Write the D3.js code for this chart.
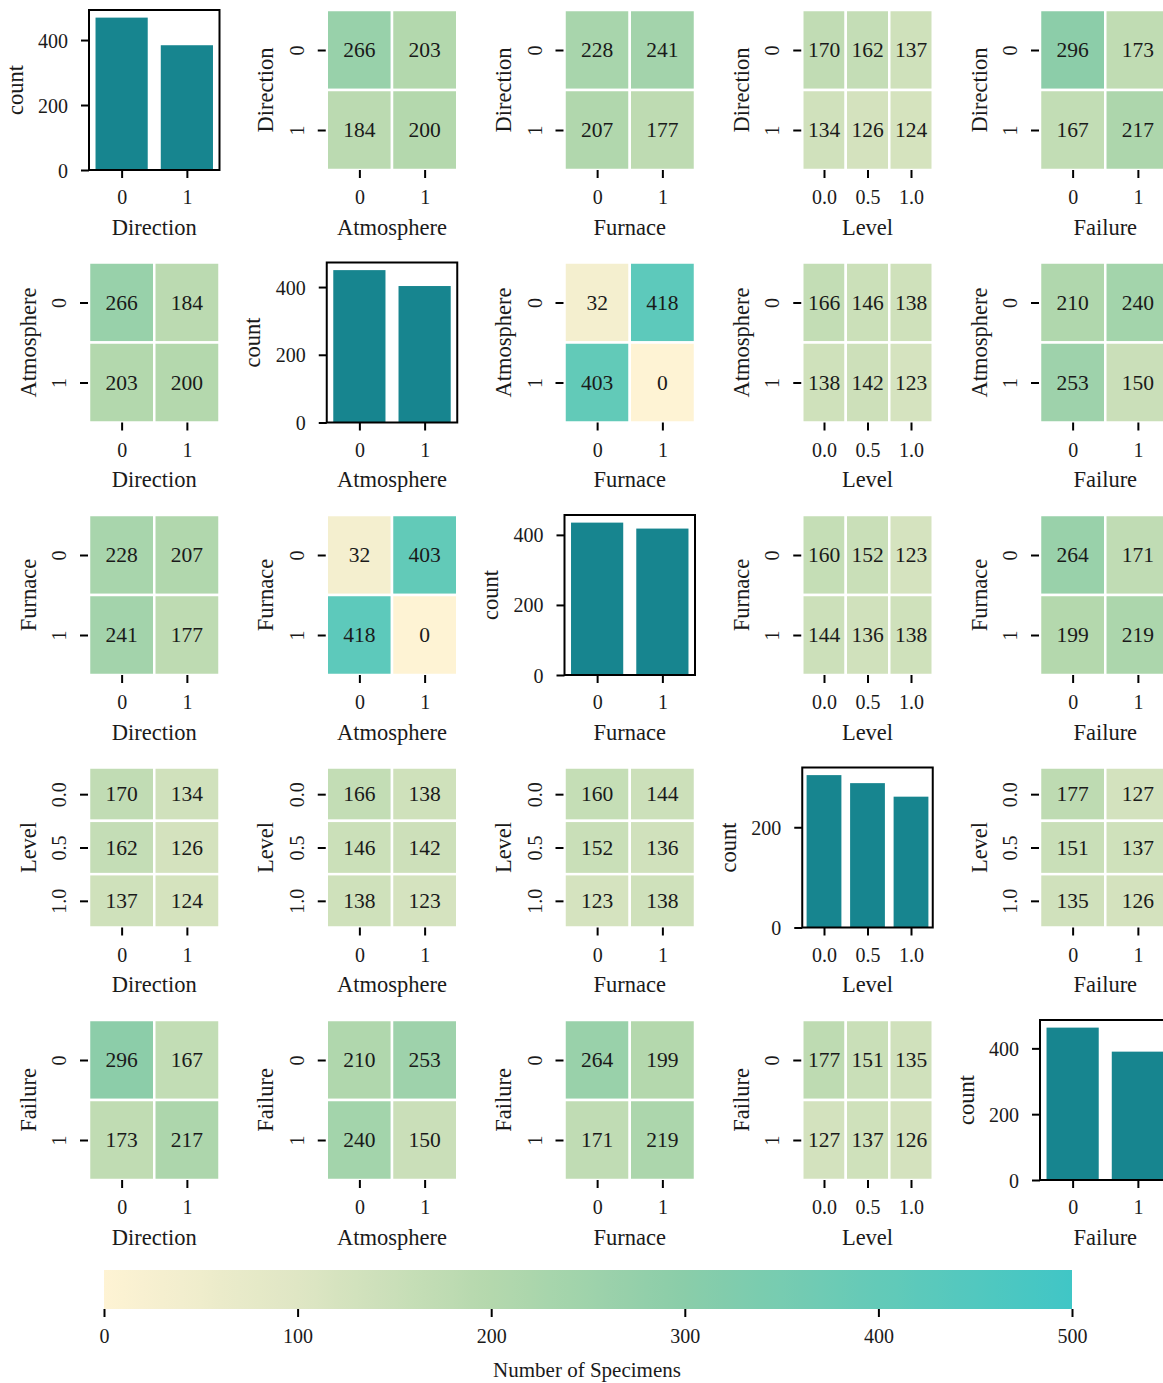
<!DOCTYPE html>
<html>
<head>
<meta charset="utf-8">
<script src="https://cdn.jsdelivr.net/npm/d3@7"></script>
<style>
  body { margin: 0; background: #fff; }
  svg text { font-family: "Liberation Serif", "DejaVu Serif", serif; fill: #1a1a1a; }
</style>
</head>
<body>
<svg id="chart" width="1163" height="1383"></svg>
<script>
// ---- data -------------------------------------------------------------
const variables = ["Direction", "Atmosphere", "Furnace", "Level", "Failure"];

const directionLevels  = ["0", "1"];
const atmosphereLevels = ["0", "1"];
const furnaceLevels    = ["0", "1"];
const levelLevels      = ["0.0", "0.5", "1.0"];
const failureLevels    = ["0", "1"];

// marginal counts (diagonal bar charts)
const directionCounts  = [469, 384];
const atmosphereCounts = [450, 403];
const furnaceCounts    = [435, 418];
const levelCounts      = [304, 288, 261];
const failureCounts    = [463, 390];

// count axis ticks of each bar chart
const directionTicks  = [0, 200, 400];
const atmosphereTicks = [0, 200, 400];
const furnaceTicks    = [0, 200, 400];
const levelTicks      = [0, 200];
const failureTicks    = [0, 200, 400];

// cross tabulations: rows = first variable, columns = second variable
const directionByAtmosphere = [[266, 203], [184, 200]];
const directionByFurnace    = [[228, 241], [207, 177]];
const directionByLevel      = [[170, 162, 137], [134, 126, 124]];
const directionByFailure    = [[296, 173], [167, 217]];
const atmosphereByFurnace   = [[32, 418], [403, 0]];
const atmosphereByLevel     = [[166, 146, 138], [138, 142, 123]];
const atmosphereByFailure   = [[210, 240], [253, 150]];
const furnaceByLevel        = [[160, 152, 123], [144, 136, 138]];
const furnaceByFailure      = [[264, 171], [199, 219]];
const levelByFailure        = [[177, 127], [151, 137], [135, 126]];

const colorbarTicks = [0, 100, 200, 300, 400, 500];

// ---- assembled lookups -----------------------------------------------
const levelsOf = [directionLevels, atmosphereLevels, furnaceLevels, levelLevels, failureLevels];
const countsOf = [directionCounts, atmosphereCounts, furnaceCounts, levelCounts, failureCounts];
const ticksOf  = [directionTicks, atmosphereTicks, furnaceTicks, levelTicks, failureTicks];
const upper = {
  "0-1": directionByAtmosphere, "0-2": directionByFurnace, "0-3": directionByLevel, "0-4": directionByFailure,
  "1-2": atmosphereByFurnace, "1-3": atmosphereByLevel, "1-4": atmosphereByFailure,
  "2-3": furnaceByLevel, "2-4": furnaceByFailure,
  "3-4": levelByFailure
};
const transpose = m => m[0].map((_, j) => m.map(row => row[j]));
function table(r, c) {
  return r < c ? upper[r + "-" + c] : transpose(upper[c + "-" + r]);
}

// ---- layout -----------------------------------------------------------
const W = 130.5, H = 160;
const colX = c => 89 + c * 237.75;
const rowY = r => 10 + r * 252.5;
const tickFont = 20, labelFont = 22.5, annotFont = 21.5;
const barColor = "#17858f";

const color = d3.scaleLinear()
  .domain([0, 100, 200, 300, 400, 500])
  .range(["#fef3d4", "#dfe6c4", "#b4d8ad", "#8acda9", "#63cab8", "#40c6c6"])
  .interpolate(d3.interpolateRgb)
  .clamp(true);

const svg = d3.select("#chart");

function styleAxis(g) {
  g.select(".domain").remove();
  g.selectAll(".tick line").attr("stroke", "#000").attr("stroke-width", 2);
  g.selectAll(".tick text").attr("font-size", tickFont).attr("fill", "#1a1a1a");
}

function xAxis(g, x, name) {
  const ax = g.append("g").attr("transform", `translate(0,${H})`)
    .call(d3.axisBottom(x).tickSize(8).tickPadding(0));
  styleAxis(ax);
  ax.selectAll(".tick text").attr("y", 27).attr("dy", null).attr("dominant-baseline", "central");
  g.append("text").attr("x", W / 2).attr("y", H + 57)
    .attr("text-anchor", "middle").attr("dominant-baseline", "central")
    .attr("font-size", labelFont).text(name);
}

function yLabel(g, text, offset) {
  g.append("text")
    .attr("transform", `translate(${-offset},${H / 2}) rotate(-90)`)
    .attr("text-anchor", "middle").attr("dominant-baseline", "central")
    .attr("font-size", labelFont).text(text);
}

function barPanel(g, i) {
  const cats = levelsOf[i], counts = countsOf[i];
  const x = d3.scaleBand().domain(cats).range([0, W]).paddingInner(0.2).paddingOuter(0.1);
  const y = d3.scaleLinear().domain([0, d3.max(counts) * 1.05]).range([H, 0]);
  g.selectAll("rect.bar").data(cats).join("rect").attr("class", "bar")
    .attr("x", d => x(d)).attr("width", x.bandwidth())
    .attr("y", (d, k) => y(counts[k])).attr("height", (d, k) => H - y(counts[k]))
    .attr("fill", barColor);
  g.append("rect").attr("width", W).attr("height", H)
    .attr("fill", "none").attr("stroke", "#000").attr("stroke-width", 2);
  const ay = g.append("g").call(d3.axisLeft(y).tickValues(ticksOf[i]).tickSize(8).tickPadding(13));
  styleAxis(ay);
  ay.selectAll(".tick text").attr("dy", null).attr("dominant-baseline", "central");
  const xs = d3.scalePoint().domain(cats).range([x(cats[0]) + x.bandwidth() / 2, x(cats[cats.length - 1]) + x.bandwidth() / 2]);
  xAxis(g, xs, variables[i]);
  yLabel(g, "count", 74);
}

function heatPanel(g, r, c) {
  const m = table(r, c);
  const rows = levelsOf[r], cols = levelsOf[c];
  const x = d3.scaleBand().domain(cols).range([0, W]);
  const y = d3.scaleBand().domain(rows).range([0, H]);
  const cells = [];
  m.forEach((row, ri) => row.forEach((v, ci) => cells.push({ r: rows[ri], c: cols[ci], v })));
  g.selectAll("rect.cell").data(cells).join("rect").attr("class", "cell")
    .attr("x", d => x(d.c)).attr("y", d => y(d.r))
    .attr("width", x.bandwidth()).attr("height", y.bandwidth())
    .attr("fill", d => color(d.v)).attr("stroke", "#fff").attr("stroke-width", 2.5);
  g.selectAll("text.annot").data(cells).join("text").attr("class", "annot")
    .attr("x", d => x(d.c) + x.bandwidth() / 2).attr("y", d => y(d.r) + y.bandwidth() / 2)
    .attr("text-anchor", "middle").attr("dominant-baseline", "central")
    .attr("font-size", annotFont).attr("fill", "#262626").text(d => d.v);
  const xs = d3.scalePoint().domain(cols).range([x.bandwidth() / 2, W - x.bandwidth() / 2]);
  xAxis(g, xs, variables[c]);
  const ys = d3.scalePoint().domain(rows).range([y.bandwidth() / 2, H - y.bandwidth() / 2]);
  const ay = g.append("g").attr("transform", "translate(-1,0)").call(d3.axisLeft(ys).tickSize(8));
  styleAxis(ay);
  ay.selectAll(".tick text")
    .attr("x", null).attr("dy", null)
    .attr("transform", "translate(-29,0) rotate(-90)")
    .attr("text-anchor", "middle").attr("dominant-baseline", "central");
  yLabel(g, variables[r], 61);
}

variables.forEach((_, r) => {
  variables.forEach((_, c) => {
    const g = svg.append("g").attr("transform", `translate(${colX(c)},${rowY(r)})`);
    if (r === c) barPanel(g, r); else heatPanel(g, r, c);
  });
});

// ---- colorbar ---------------------------------------------------------
const cbX0 = 104, cbX1 = 1072, cbY = 1270, cbH = 39;
const grad = svg.append("defs").append("linearGradient").attr("id", "cbgrad");
d3.range(0, 501, 10).forEach(v => {
  grad.append("stop").attr("offset", (v / 500 * 100) + "%").attr("stop-color", color(v));
});
svg.append("rect").attr("x", cbX0).attr("y", cbY).attr("width", cbX1 - cbX0).attr("height", cbH)
  .attr("fill", "url(#cbgrad)");
const cbScale = d3.scaleLinear().domain([0, 500]).range([cbX0, cbX1]);
const cbAxis = svg.append("g").attr("transform", `translate(0,${cbY + cbH})`)
  .call(d3.axisBottom(cbScale).tickValues(colorbarTicks).tickFormat(d3.format("d")).tickSize(8));
styleAxis(cbAxis);
cbAxis.selectAll(".tick text").attr("y", 27).attr("dy", null).attr("dominant-baseline", "central");
svg.append("text").attr("x", (cbX0 + cbX1) / 2 - 1).attr("y", 1370)
  .attr("text-anchor", "middle").attr("dominant-baseline", "central")
  .attr("font-size", 21).text("Number of Specimens");
</script>
</body>
</html>
